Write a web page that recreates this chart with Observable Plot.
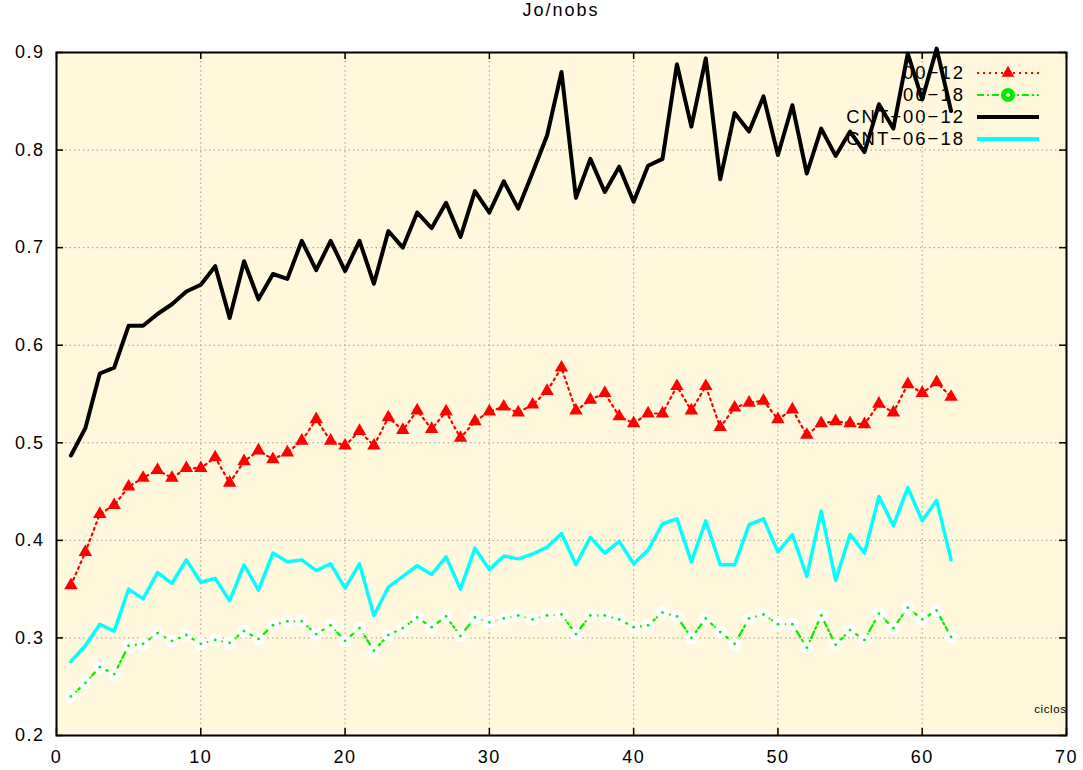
<!DOCTYPE html>
<html>
<head>
<meta charset="utf-8">
<script src="https://cdn.jsdelivr.net/npm/d3@7"></script>
<script src="https://cdn.jsdelivr.net/npm/@observablehq/plot@0.6"></script>
<style>
  html, body { margin: 0; padding: 0; background: white; }
  #title { height: 36px; line-height: 36px; font: 18px "Liberation Sans", Arial, sans-serif; letter-spacing: 2px;
           text-align: center; width: 1083px; padding-left: 56px; padding-right: 17px; box-sizing: border-box; color: #000; }
  svg text { letter-spacing: 1.5px; }
  svg .small text, svg text.small { letter-spacing: 0.6px; }
  svg .legend text { letter-spacing: 2px; }
</style>
</head>
<body>
<div id="title">Jo/nobs</div>
<div id="chart"></div>
<script>
const cycles = [1,2,3,4,5,6,7,8,9,10,11,12,13,14,15,16,17,18,19,20,21,22,23,24,25,26,27,28,29,30,31,32,33,34,35,36,37,38,39,40,41,42,43,44,45,46,47,48,49,50,51,52,53,54,55,56,57,58,59,60,61,62];
const s0012 = [0.354,0.388,0.427,0.436,0.455,0.464,0.472,0.464,0.474,0.474,
  0.485,0.459,0.481,0.492,0.483,0.490,0.502,0.524,0.502,0.497,
  0.512,0.497,0.526,0.513,0.533,0.514,0.532,0.505,0.522,0.532,
  0.537,0.531,0.539,0.553,0.577,0.533,0.544,0.551,0.527,0.520,
  0.530,0.530,0.558,0.533,0.558,0.516,0.536,0.541,0.543,0.524,
  0.534,0.508,0.520,0.522,0.520,0.519,0.540,0.531,0.560,0.551,
  0.562,0.547];
const s0618 = [0.240,0.254,0.270,0.263,0.292,0.294,0.305,0.297,0.303,0.294,
  0.298,0.295,0.307,0.299,0.313,0.317,0.317,0.304,0.313,0.297,
  0.310,0.287,0.303,0.310,0.321,0.311,0.322,0.302,0.321,0.316,
  0.320,0.323,0.319,0.323,0.324,0.304,0.323,0.323,0.319,0.311,
  0.313,0.326,0.322,0.300,0.320,0.306,0.294,0.320,0.324,0.314,
  0.314,0.290,0.323,0.293,0.308,0.298,0.325,0.310,0.331,0.319,
  0.328,0.301];
const cnt0012 = [0.487,0.515,0.571,0.577,0.620,0.620,0.632,0.642,0.655,0.662,
  0.681,0.628,0.686,0.647,0.673,0.668,0.707,0.677,0.707,0.676,
  0.707,0.663,0.717,0.700,0.736,0.720,0.746,0.711,0.758,0.736,
  0.768,0.740,0.777,0.815,0.880,0.751,0.791,0.757,0.783,0.747,
  0.784,0.791,0.888,0.824,0.894,0.770,0.838,0.819,0.855,0.795,
  0.846,0.776,0.822,0.794,0.819,0.798,0.847,0.822,0.899,0.852,
  0.904,0.840];
const cnt0618 = [0.276,0.292,0.314,0.307,0.350,0.340,0.367,0.356,0.380,0.357,
  0.361,0.338,0.375,0.349,0.387,0.378,0.380,0.369,0.376,0.351,
  0.376,0.323,0.352,0.363,0.374,0.365,0.383,0.350,0.392,0.370,
  0.384,0.381,0.386,0.393,0.407,0.375,0.403,0.387,0.399,0.376,
  0.390,0.417,0.422,0.378,0.420,0.375,0.375,0.416,0.422,0.388,
  0.406,0.363,0.430,0.359,0.406,0.387,0.445,0.415,0.454,0.420,
  0.441,0.380];
const xTicks = [0,10,20,30,40,50,60,70];
const yTicks = [0.2,0.3,0.4,0.5,0.6,0.7,0.8,0.9];
const seriesNames = ["00\u221212", "06\u221218", "CNT\u221200\u221212", "CNT\u221206\u221218"];
const xLabel = "ciclos";

const tbl = arr => arr.map((v, i) => ({x: cycles[i], y: v}));
const red = tbl(s0012), green = tbl(s0618), black = tbl(cnt0012), cyan = tbl(cnt0618);

const H = 734, mT = 16, mB = 35, mL = 56, mR = 17;
const innerH = H - mT - mB, innerW = 1083 - mL - mR;
const tk = 7;

function legend(index, scales, values, dim) {
  const g = d3.create("svg:g").attr("class", "legend");
  const right = dim.width - dim.marginRight;
  const tx = right - 101, l1 = right - 89, l2 = right - 27, mx = (l1 + l2) / 2;
  const rows = [21, 43, 65, 87].map(d => d + dim.marginTop);
  const styles = [
    {stroke: "#ff0000", w: 2, dash: "2,4"},
    {stroke: "#00ee00", w: 2, dash: "7,3,2,3"},
    {stroke: "#000000", w: 4, dash: null},
    {stroke: "#00ffff", w: 4, dash: null}
  ];
  seriesNames.forEach((name, i) => {
    g.append("text").attr("x", tx).attr("y", rows[i]).attr("dy", "0.35em")
      .attr("text-anchor", "end").attr("font-size", 18.5).attr("fill", "#000").text(name);
    g.append("line").attr("x1", l1).attr("x2", l2).attr("y1", rows[i]).attr("y2", rows[i])
      .attr("stroke", styles[i].stroke).attr("stroke-width", styles[i].w)
      .attr("stroke-dasharray", styles[i].dash);
  });
  g.append("path").attr("d", d3.symbol(d3.symbolTriangle, 70)()).attr("transform", `translate(${mx},${rows[0]})`).attr("fill", "#ff0000");
  g.append("circle").attr("cx", mx).attr("cy", rows[1]).attr("r", 7).attr("fill", "#00ee00");
  g.append("circle").attr("cx", mx).attr("cy", rows[1]).attr("r", 2).attr("fill", "white");
  return g.node();
}

const chart = Plot.plot({
  width: 1083, height: H,
  marginTop: mT, marginBottom: mB, marginLeft: mL, marginRight: mR,
  style: {background: "white", fontFamily: "'Liberation Sans', Arial, sans-serif", fontSize: "18px", color: "#000"},
  x: {domain: [0, 70]},
  y: {domain: [0.2, 0.9]},
  marks: [
    Plot.frame({fill: "#fff8dc", stroke: null}),
    Plot.gridX(xTicks.slice(1, -1), {stroke: "#a09c90", strokeOpacity: 1, strokeDasharray: "1.5,3"}),
    Plot.gridY(yTicks.slice(1, -1), {stroke: "#a09c90", strokeOpacity: 1, strokeDasharray: "1.5,3"}),
    Plot.tickX(xTicks, {x: d => d, insetTop: innerH - tk, stroke: "black", strokeWidth: 1.5}),
    Plot.tickX(xTicks, {x: d => d, insetBottom: innerH - tk, stroke: "black", strokeWidth: 1.5}),
    Plot.tickY(yTicks, {y: d => d, insetRight: innerW - tk, stroke: "black", strokeWidth: 1.5}),
    Plot.tickY(yTicks, {y: d => d, insetLeft: innerW - tk, stroke: "black", strokeWidth: 1.5}),
    Plot.axisX(xTicks, {tickSize: 0, tickPadding: 15, fontSize: 18, fill: "#000", label: null}),
    Plot.axisY(yTicks, {tickSize: 0, tickPadding: 12, fontSize: 18, fill: "#000", label: null, tickFormat: d3.format(".1f")}),
    Plot.text([xLabel], {frameAnchor: "bottom-right", textAnchor: "end", lineAnchor: "middle", dy: -26, dx: 0, fontSize: 11.5, fill: "#000", className: "small"}),
    legend,
    Plot.line(red, {x: "x", y: "y", stroke: "#ff0000", strokeWidth: 2.2, strokeDasharray: "2,4"}),
    Plot.dot(red, {x: "x", y: "y", symbol: "triangle", r: 5, fill: "#ff0000", stroke: null}),
    Plot.line(green, {x: "x", y: "y", stroke: "#00ee00", strokeWidth: 2.2, strokeDasharray: "7,3,2,3"}),
    Plot.dot(green, {x: "x", y: "y", r: 6.5, fill: "white", stroke: null}),
    Plot.dot(green, {x: "x", y: "y", r: 1.4, fill: "#00ee00", stroke: null}),
    Plot.line(black, {x: "x", y: "y", stroke: "#000000", strokeWidth: 4}),
    Plot.line(cyan, {x: "x", y: "y", stroke: "#00ffff", strokeWidth: 3.5}),
    Plot.frame({stroke: "black", strokeWidth: 2})
  ]
});
document.getElementById("chart").appendChild(chart);
</script>
</body>
</html>
